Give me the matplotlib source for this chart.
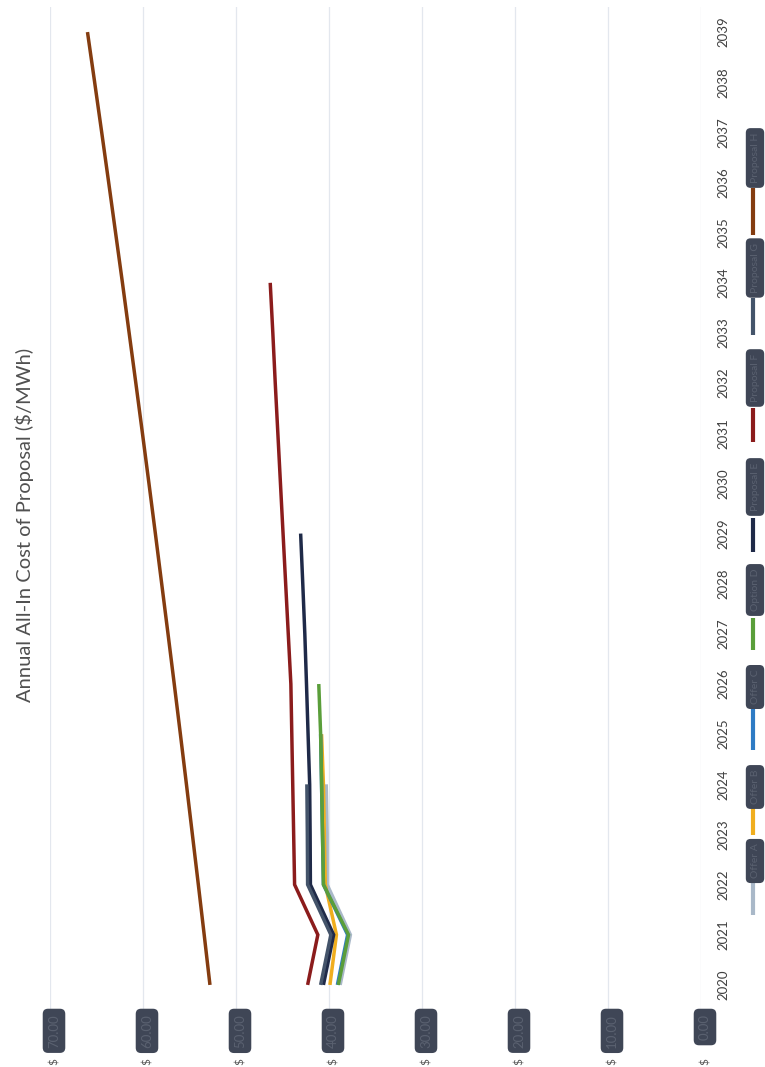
import matplotlib
matplotlib.use("Agg")
import matplotlib.pyplot as plt
import matplotlib.transforms as mtransforms
from matplotlib.lines import Line2D

plt.rcParams['font.family'] = ['Lato', 'DejaVu Sans']

# ---- data (value axis unlabeled/redacted) ----
years = list(range(2020, 2040))
series_names = ["Offer A", "Offer B", "Offer C", "Option D",
                "Proposal E", "Proposal F", "Proposal G", "Proposal H"]
gray_vals = [38.8, 37.7, 40.2, 40.2, 40.3]
yellow_vals = [39.9, 39.2, 40.4, 40.5, 40.6, 40.8]
blue_vals = [39.1, 38.0, 40.6, 40.7, 40.8, 40.9]
green_vals = [39.0, 37.9, 40.6, 40.7, 40.8, 40.9, 41.1]
navy_vals = [40.6, 39.5, 42.0, 42.03, 42.08, 42.25, 42.42, 42.6, 42.82, 43.05]
red_vals = [42.3, 41.2, 43.7, 43.8, 43.9, 44.0, 44.1, 44.38, 44.66, 44.94,
            45.22, 45.5, 45.78, 46.04, 46.32]
slate_vals = [40.9, 39.8, 42.3, 42.33, 42.38]
brown_vals = [52.8, 53.42, 54.05, 54.69, 55.33, 55.98, 56.64, 57.31, 57.99, 58.67,
              59.36, 60.06, 60.77, 61.49, 62.21, 62.95, 63.69, 64.44, 65.2, 65.97]
value_ticks = [0, 10, 20, 30, 40, 50, 60, 70]
value_labels = ["0.00", "10.00", "20.00", "30.00", "40.00", "50.00", "60.00", "70.00"]

all_vals = [gray_vals, yellow_vals, blue_vals, green_vals,
            navy_vals, red_vals, slate_vals, brown_vals]
colors = ['#a9b8c8', '#f0ae1e', '#2e7bc4', '#5a9e3a',
          '#1f2a48', '#8b1c1c', '#44546a', '#843c10']

W, H = 765, 1067
fig = plt.figure(figsize=(W / 100, H / 100), dpi=100)
fig.patch.set_facecolor('white')

# plot area (chart is drawn rotated 90 degrees, as in the scanned page)
ax = fig.add_axes([50 / W, 1 - 1010 / H, 651 / W, 1003 / H])
for s in ax.spines.values():
    s.set_visible(False)

for vals, col in zip(all_vals, colors):
    ax.plot(vals, years[:len(vals)], color=col, lw=2.5,
            solid_capstyle='butt', solid_joinstyle='miter', zorder=3)

ax.set_xlim(70, 0)
ax.set_ylim(2019.5, 2039.5)
ax.set_xticks(value_ticks)
ax.set_xticklabels([])
ax.grid(axis='x', color='#e3e7ee', lw=0.9)
ax.tick_params(axis='x', length=0)

ax.set_yticks(years)
ax.yaxis.tick_right()
ax.tick_params(axis='y', length=0, pad=12, labelsize=9.5, labelcolor='#404040')
for lab in ax.get_yticklabels():
    lab.set_rotation(90)
    lab.set_va('center')

# redacted value labels along the bottom, "$" sign left showing below
shift = mtransforms.ScaledTranslation(4 / 100, 0, fig.dpi_scale_trans)
trans = ax.get_xaxis_transform() + shift
for v, lab in zip(value_ticks, value_labels):
    ax.text(v, -0.004, lab, transform=trans, rotation=90, ha='center', va='top',
            fontsize=9.5, color='#5a6170', clip_on=False,
            bbox=dict(boxstyle='round,pad=0.4', fc='#3f4656', ec='none'))
    ax.text(v, -55 / 1003, '$', transform=trans, rotation=90, ha='center',
            va='bottom', fontsize=8.5, color='#555555', clip_on=False)

# title
fig.text(25 / W, 1 - 525 / H, 'Annual All-In Cost of Proposal ($/MWh)',
         rotation=90, ha='center', va='center', fontsize=14.5, color='#505050')

# legend, stacked along the right edge (line segment below its label)
leg_lines = [(878, 915), (790, 835), (705, 750), (618, 650),
             (518, 552), (408, 442), (298, 335), (188, 235)]
leg_blobs = [861, 787, 687, 590, 487, 378, 268, 158]
for name, col, (y0, y1), yb in zip(series_names, colors, leg_lines, leg_blobs):
    fig.add_artist(Line2D([753 / W, 753 / W], [1 - y0 / H, 1 - y1 / H],
                          color=col, lw=3, solid_capstyle='butt'))
    fig.text(755 / W, 1 - yb / H, name, rotation=90, ha='center', va='center',
             fontsize=7.5, color='#5a6170',
             bbox=dict(boxstyle='round,pad=0.45', fc='#3f4656', ec='none'))

fig.savefig('out.png', dpi=100, facecolor='white')
